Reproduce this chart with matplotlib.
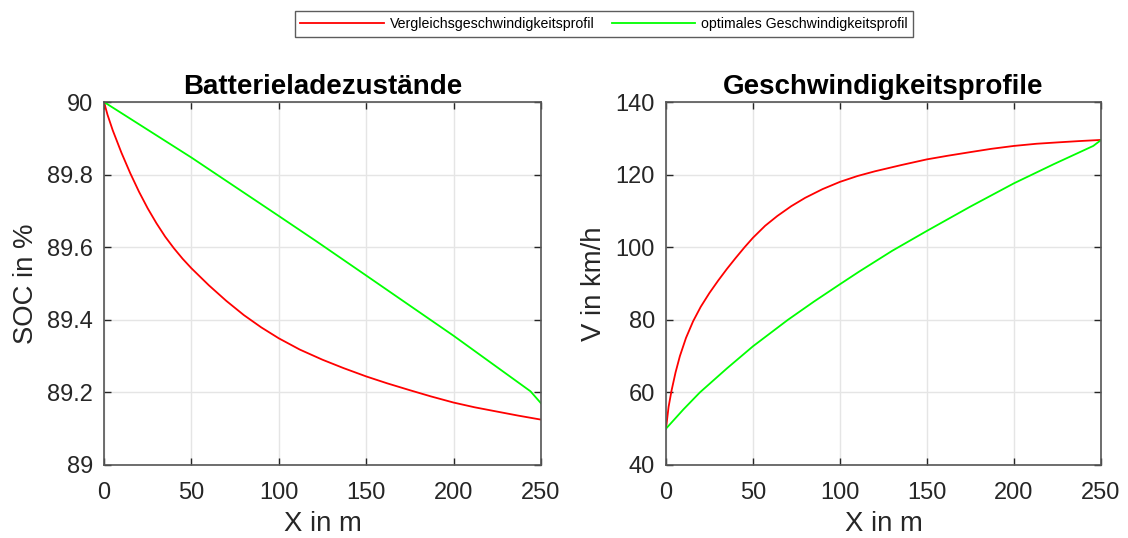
import numpy as np
import matplotlib.pyplot as plt

plt.rcParams['font.family'] = ['Liberation Sans', 'DejaVu Sans']

# Batterieladezustand (SOC) ueber dem Weg
x_soc_ref = [0, 2, 5, 10, 15, 20, 25, 30, 35, 40, 45, 50, 60, 70, 80, 90, 100,
             112, 125, 137, 150, 162, 175, 187, 200, 212, 225, 237, 250]
soc_ref = [90, 89.965, 89.922, 89.860, 89.804, 89.753, 89.707, 89.666, 89.629,
           89.597, 89.568, 89.542, 89.495, 89.452, 89.413, 89.379, 89.349,
           89.318, 89.290, 89.267, 89.244, 89.225, 89.206, 89.189, 89.172,
           89.159, 89.147, 89.136, 89.125]
x_soc_opt = [0, 50, 100, 121.6, 150, 200, 244, 250]
soc_opt = [90, 89.847, 89.686, 89.616, 89.522, 89.356, 89.203, 89.170]

# Geschwindigkeitsprofile
x_v_ref = [0, 1.5, 3.2, 5.5, 8, 11.5, 15.6, 20, 25, 30, 35, 40, 45.2, 50, 57,
           64, 72, 80, 90, 100, 110, 120, 135, 150, 162, 175, 187, 200, 213,
           226, 238, 250]
v_ref = [50, 56, 60.5, 65.5, 70, 75, 79.6, 83.6, 87.4, 90.8, 94.0, 97.0, 100,
         102.6, 105.9, 108.6, 111.3, 113.6, 116.0, 118.0, 119.6, 120.9, 122.6,
         124.2, 125.2, 126.2, 127.1, 127.9, 128.5, 128.9, 129.25, 129.55]
x_v_opt = [0, 10, 19.5, 35, 50, 70.1, 85, 100, 111.1, 130, 150, 175, 200, 223,
           245.6, 250]
v_opt = [50, 55.3, 60, 66.6, 72.7, 80, 85.0, 89.8, 93.3, 99.0, 104.5, 111.2,
         117.6, 122.9, 127.9, 129.5]

labels = ['Vergleichsgeschwindigkeitsprofil', 'optimales Geschwindigkeitsprofil']
red = '#ff0000'
green = '#00ff00'
axcol = '#262626'

fig = plt.figure(figsize=(11.28, 5.38), dpi=100)
ax1 = fig.add_axes([0.0922, 0.1357, 0.3874, 0.6747])
ax2 = fig.add_axes([0.5904, 0.1357, 0.3856, 0.6747])


def style(ax):
    ax.set_xlim(0, 250)
    ax.set_xticks([0, 50, 100, 150, 200, 250])
    ax.grid(True, color='#e5e5e5', linewidth=1)
    ax.set_axisbelow(True)
    ax.tick_params(direction='in', length=5, width=1, colors=axcol,
                   labelsize=17, top=True, right=True)
    ax.tick_params(axis='x', pad=12)
    ax.tick_params(axis='y', pad=8)
    for sp in ax.spines.values():
        sp.set_color('#555555')
        sp.set_linewidth(1.2)
    ax.set_xlabel('X in m', fontsize=19.8, color=axcol, labelpad=5)


l1, = ax1.plot(x_soc_ref, soc_ref, color=red, linewidth=1.3)
l2, = ax1.plot(x_soc_opt, soc_opt, color=green, linewidth=1.3)
style(ax1)
ax1.set_ylim(89, 90)
ax1.set_yticks([89, 89.2, 89.4, 89.6, 89.8, 90])
ax1.set_yticklabels(['89', '89.2', '89.4', '89.6', '89.8', '90'])
ax1.set_ylabel('SOC in %', fontsize=19.8, color=axcol, labelpad=6)
ax1.set_title('Batterieladezustände', fontsize=20, fontweight='bold', pad=6)

ax2.plot(x_v_ref, v_ref, color=red, linewidth=1.3)
ax2.plot(x_v_opt, v_opt, color=green, linewidth=1.3)
style(ax2)
ax2.set_ylim(40, 140)
ax2.set_yticks([40, 60, 80, 100, 120, 140])
ax2.set_ylabel('V in km/h', fontsize=19.8, color=axcol, labelpad=6)
ax2.set_title('Geschwindigkeitsprofile', fontsize=20, fontweight='bold', pad=6)

leg = fig.legend([l1, l2], labels, loc='center', bbox_to_anchor=(0.5355, 0.9554),
                 ncol=2, fontsize=10.2, frameon=True, fancybox=False,
                 handlelength=5.9, handletextpad=0.42, columnspacing=1.2,
                 borderpad=0.4, borderaxespad=0)
leg.get_frame().set_edgecolor('#333333')
leg.get_frame().set_linewidth(1)

fig.savefig('out.png', dpi=100)
